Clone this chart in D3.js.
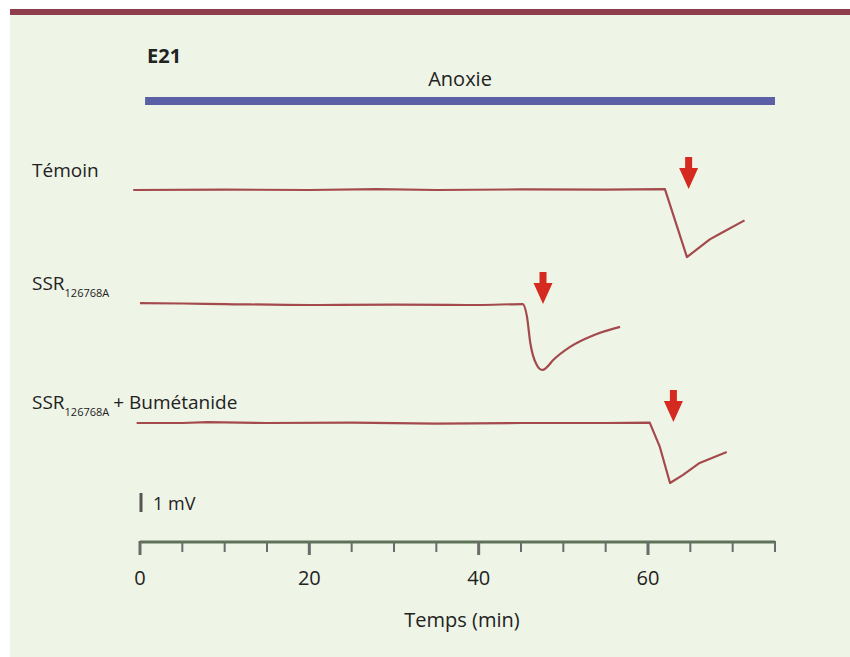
<!DOCTYPE html>
<html>
<head>
<meta charset="utf-8">
<script src="https://cdn.jsdelivr.net/npm/d3@7"></script>
<style>
  body { margin: 0; background: #fff; }
  svg text { font-family: "Liberation Sans Narrow", "Open Sans", sans-serif; fill: #222; }
</style>
</head>
<body>
<svg id="chart" width="850" height="657"></svg>
<script>
// Data: time in minutes, potential in mV relative to each trace's baseline
const ticksMajor = [0, 20, 40, 60];
const ticksAll = d3.range(0, 76, 5);
const anoxia = [0.6, 75];

const temoin = [[-0.8, 0], [10, 0.02], [20, 0], [28, 0.05], [35, 0], [45, 0.03], [55, 0.02], [62, 0.05],
  [64.6, -3.53], [67.3, -2.6], [68.5, -2.3], [71.4, -1.6]];
const ssr = [[0, 0.1], [5, 0.08], [10, 0.05], [20, 0], [30, 0.02], [40, 0], [45.2, 0.05], [45.7, -0.6],
  [46.1, -2.0], [46.85, -3.15], [47.5, -3.42], [48, -3.3], [48.8, -2.9], [50.8, -2.2], [53.5, -1.6], [56.7, -1.15]];
const ssrBum = [[-0.4, 0], [5, 0], [8, 0.05], [15, 0], [25, 0.02], [35, -0.03], [45, 0], [55, 0], [60.2, 0.02],
  [61.4, -1.26], [62.6, -3.16], [64.1, -2.74], [66.1, -2.1], [69.3, -1.53]];
const arrowTimes = [64.8, 47.6, 63.0];

const svg = d3.select("#chart");

// panel background + top band
svg.append("rect").attr("x", 10).attr("y", 9).attr("width", 840).attr("height", 648).attr("fill", "#eef4e6");
svg.append("rect").attr("x", 10).attr("y", 9).attr("width", 840).attr("height", 6).attr("fill", "#8d3d4b");

const x = d3.scaleLinear().domain([0, 75]).range([140, 775]);
const y = d3.scaleLinear().domain([0, 1]).range([0, -19]); // mV -> pixel offset

// header
svg.append("text").attr("x", 147).attr("y", 63).style("font-weight", "bold").style("font-size", "20px").text("E21");
svg.append("text").attr("x", x((anoxia[0] + anoxia[1]) / 2)).attr("y", 86).attr("text-anchor", "middle")
  .style("font-size", "20px").text("Anoxie");
svg.append("line").attr("x1", x(anoxia[0])).attr("x2", x(anoxia[1])).attr("y1", 101).attr("y2", 101)
  .attr("stroke", "#5a5fa6").attr("stroke-width", 8);

// traces
const traces = [
  { data: temoin, base: 190, curve: d3.curveLinear },
  { data: ssr, base: 305, curve: d3.curveMonotoneX },
  { data: ssrBum, base: 423, curve: d3.curveLinear }
];

traces.forEach((t, i) => {
  const line = d3.line().x(d => x(d[0])).y(d => y(d[1])).curve(t.curve);
  const g = svg.append("g").attr("transform", `translate(0,${t.base})`);
  g.append("path").attr("d", line(t.data)).attr("fill", "none")
    .attr("stroke", "#a44a4c").attr("stroke-width", 2.2).attr("stroke-linejoin", "round");
  // arrow
  const ax = x(arrowTimes[i]);
  g.append("path")
    .attr("d", `M${ax - 3.5},-33 L${ax + 3.5},-33 L${ax + 3.5},-22 L${ax + 9.5},-22 L${ax},-1 L${ax - 9.5},-22 L${ax - 3.5},-22 Z`)
    .attr("fill", "#d42a20");
});

// trace labels
svg.append("text").attr("x", 32).attr("y", 177).style("font-size", "19px").text("Témoin");

function ssrLabel(yb, extra) {
  const t = svg.append("text").attr("x", 32).attr("y", yb).style("font-size", "19px");
  t.append("tspan").text("SSR");
  t.append("tspan").attr("dy", 7).style("font-size", "11px").text("126768A");
  if (extra) t.append("tspan").attr("dy", -7).attr("dx", 4).text(extra);
}
ssrLabel(290, null);
ssrLabel(409, "+ Bumétanide");

// scale bar 1 mV
svg.append("line").attr("x1", 141).attr("x2", 141).attr("y1", 512).attr("y2", 512 + y(1))
  .attr("stroke", "#555").attr("stroke-width", 3);
svg.append("text").attr("x", 153).attr("y", 510).style("font-size", "18px").text("1 mV");

// time axis
const axisY = 542;
svg.append("line").attr("x1", x(0)).attr("x2", x(75)).attr("y1", axisY).attr("y2", axisY)
  .attr("stroke", "#5d7258").attr("stroke-width", 3);
svg.selectAll(".tick").data(ticksAll).enter().append("line")
  .attr("x1", d => x(d)).attr("x2", d => x(d))
  .attr("y1", axisY - 1).attr("y2", d => ticksMajor.includes(d) ? axisY + 13 : axisY + 10)
  .attr("stroke", "#6b6b6b").attr("stroke-width", d => ticksMajor.includes(d) ? 3 : 2);
svg.selectAll(".tlab").data(ticksMajor).enter().append("text")
  .attr("x", d => x(d)).attr("y", 585).attr("text-anchor", "middle").style("font-size", "20px").text(d => d);
svg.append("text").attr("x", 462).attr("y", 627).attr("text-anchor", "middle").style("font-size", "20px").text("Temps (min)");
</script>
</body>
</html>
